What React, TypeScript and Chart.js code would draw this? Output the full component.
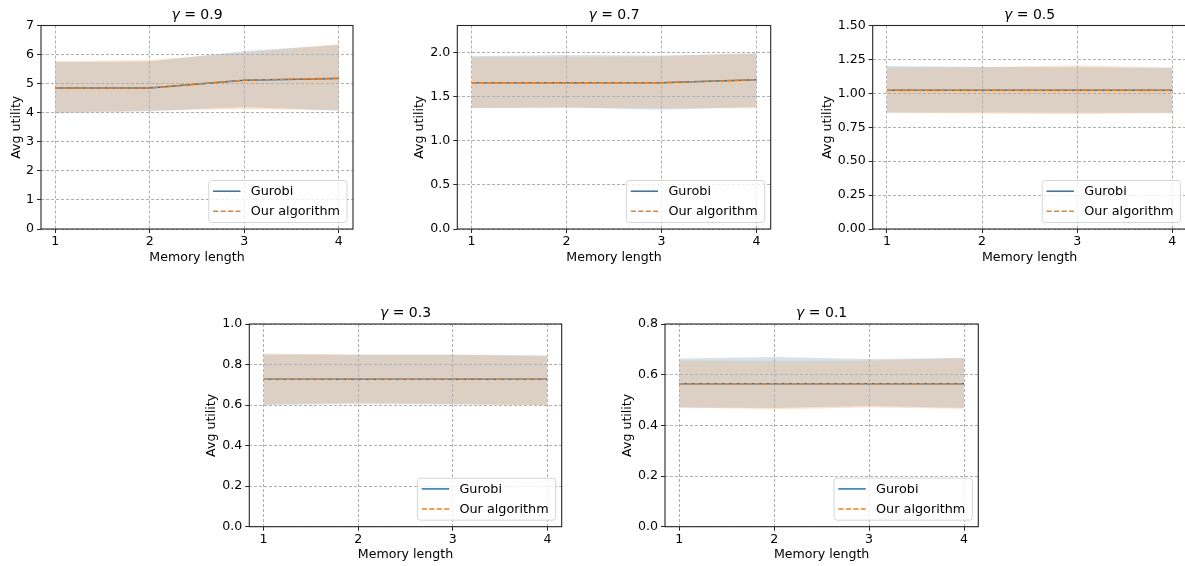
import React, { useEffect, useRef } from "react";
import { Chart, registerables } from "chart.js";

Chart.register(...registerables);

// ---------------- data ----------------
const memoryLength = [1, 2, 3, 4];
const gammaLabels = ["0.9", "0.7", "0.5", "0.3", "0.1"];
const seriesNames = ["Gurobi", "Our algorithm"];

// gamma = 0.9
const g09GurobiMean = [4.85, 4.85, 5.12, 5.18];
const g09OursMean = [4.85, 4.85, 5.12, 5.19];
const g09GurobiUpper = [5.74, 5.76, 6.12, 6.33];
const g09GurobiLower = [3.97, 4.05, 4.2, 4.07];
const g09OursUpper = [5.78, 5.81, 6.06, 6.36];
const g09OursLower = [4.02, 4.08, 4.13, 4.09];

// gamma = 0.7
const g07GurobiMean = [1.66, 1.66, 1.66, 1.695];
const g07OursMean = [1.66, 1.66, 1.66, 1.695];
const g07GurobiUpper = [1.96, 1.975, 1.97, 1.99];
const g07GurobiLower = [1.37, 1.38, 1.355, 1.385];
const g07OursUpper = [1.955, 1.955, 1.96, 2.0];
const g07OursLower = [1.375, 1.375, 1.37, 1.37];

// gamma = 0.5
const g05GurobiMean = [1.022, 1.022, 1.022, 1.022];
const g05OursMean = [1.022, 1.022, 1.022, 1.022];
const g05GurobiUpper = [1.202, 1.195, 1.193, 1.187];
const g05GurobiLower = [0.857, 0.858, 0.856, 0.856];
const g05OursUpper = [1.19, 1.195, 1.207, 1.19];
const g05OursLower = [0.858, 0.852, 0.846, 0.855];

// gamma = 0.3
const g03GurobiMean = [0.727, 0.727, 0.727, 0.727];
const g03OursMean = [0.727, 0.727, 0.727, 0.727];
const g03GurobiUpper = [0.85, 0.848, 0.848, 0.842];
const g03GurobiLower = [0.6, 0.605, 0.603, 0.6];
const g03OursUpper = [0.855, 0.85, 0.85, 0.846];
const g03OursLower = [0.603, 0.612, 0.605, 0.598];

// gamma = 0.1
const g01GurobiMean = [0.5645, 0.5645, 0.5645, 0.5645];
const g01OursMean = [0.5645, 0.5645, 0.5645, 0.5645];
const g01GurobiUpper = [0.664, 0.67, 0.662, 0.666];
const g01GurobiLower = [0.47, 0.468, 0.476, 0.468];
const g01OursUpper = [0.657, 0.655, 0.656, 0.666];
const g01OursLower = [0.47, 0.464, 0.47, 0.466];

// y axis settings per panel
const yMaxes = [7, 2.31, 1.5, 1.0, 0.8];
const ySteps = [1, 0.5, 0.25, 0.2, 0.2];
const yDecimals = [0, 1, 2, 1, 1];

// ---------------- layout (not data) ----------------
const panelBoxes = [
  { L: 41, T: 25.5, R: 353, B: 229, yTitleOff: 24 },
  { L: 457.3, T: 25.5, R: 770.7, B: 229, yTitleOff: 37 },
  { L: 872.7, T: 25.5, R: 1186.5, B: 229, yTitleOff: 44.5 },
  { L: 249.3, T: 324, R: 561.7, B: 526.7, yTitleOff: 37.6 },
  { L: 665, T: 324, R: 978.3, B: 526.7, yTitleOff: 36.7 },
];

const panelSeries = [
  [g09GurobiMean, g09OursMean, g09GurobiUpper, g09GurobiLower, g09OursUpper, g09OursLower],
  [g07GurobiMean, g07OursMean, g07GurobiUpper, g07GurobiLower, g07OursUpper, g07OursLower],
  [g05GurobiMean, g05OursMean, g05GurobiUpper, g05GurobiLower, g05OursUpper, g05OursLower],
  [g03GurobiMean, g03OursMean, g03GurobiUpper, g03GurobiLower, g03OursUpper, g03OursLower],
  [g01GurobiMean, g01OursMean, g01GurobiUpper, g01GurobiLower, g01OursUpper, g01OursLower],
];

const BLUE = "#1f77b4";
const ORANGE = "#ff7f0e";
const BLUE_FILL = "rgba(31,119,180,0.2)";
const ORANGE_FILL = "rgba(255,127,14,0.2)";
const FONT = "'DejaVu Sans', sans-serif";
const TEXT = "#000000";
const GRID = "#b0b0b0";
const SPINE = "#262626";
const TEXT_SIZE = 12.6;

const toPts = (ys: number[]) => memoryLength.map((x, i) => ({ x, y: ys[i] }));

function Panel({ idx }: { idx: number }) {
  const ref = useRef<HTMLCanvasElement>(null);
  const box = panelBoxes[idx];
  const PAD_TOP = 25;
  const PAD_RIGHT = 6;
  const X_AXIS_H = 38;
  const cx = Math.round(box.L - box.yTitleOff - 10);
  const cy = Math.round(box.T - PAD_TOP);
  const cw = Math.round(box.R + PAD_RIGHT - cx);
  const ch = Math.round(box.B + X_AXIS_H - cy);
  const yAxisW = box.L - cx;
  const padTop = box.T - cy;
  const padRight = cx + cw - box.R;
  const xAxisH = cy + ch - box.B;
  const half = (TEXT_SIZE * 1.2) / 2;

  useEffect(() => {
    const canvas = ref.current;
    if (!canvas) return;
    const s = panelSeries[idx];
    const gamma = gammaLabels[idx];

    const framePlugin = {
      id: "frame",
      afterDatasetsDraw(chart: any) {
        const { ctx, chartArea } = chart;
        const { left, right, top, bottom } = chartArea;
        ctx.save();
        ctx.strokeStyle = SPINE;
        ctx.lineWidth = 1.1;
        ctx.strokeRect(left, top, right - left, bottom - top);
        ctx.restore();
      },
    };

    const titlePlugin = {
      id: "mtitle",
      afterDraw(chart: any) {
        const { ctx, chartArea } = chart;
        const { left, right, top } = chartArea;
        ctx.save();
        ctx.fillStyle = TEXT;
        ctx.textBaseline = "alphabetic";
        ctx.textAlign = "left";
        const size = 14;
        const fItalic = `italic ${size}px ${FONT}`;
        const fNormal = `${size}px ${FONT}`;
        ctx.font = fItalic;
        const w1 = ctx.measureText("γ").width;
        ctx.font = fNormal;
        const rest = " = " + gamma;
        const w2 = ctx.measureText(rest).width;
        const x0 = (left + right) / 2 - (w1 + w2) / 2;
        const yb = top - 6.6;
        ctx.font = fItalic;
        ctx.fillText("γ", x0, yb);
        ctx.font = fNormal;
        ctx.fillText(rest, x0 + w1, yb);
        ctx.restore();
      },
    };

    const legendPlugin = {
      id: "mlegend",
      afterDraw(chart: any) {
        const { ctx, chartArea } = chart;
        const { right, bottom } = chartArea;
        const dsets = chart.data.datasets.slice(0, 2);
        ctx.save();
        const fs = 12.8;
        ctx.font = `${fs}px ${FONT}`;
        let tw = 0;
        dsets.forEach((d: any) => {
          tw = Math.max(tw, ctx.measureText(d.label).width);
        });
        const boxW = 42 + tw + 7;
        const boxH = 42;
        const bx = Math.min(right, chart.width) - 6 - boxW;
        const by = bottom - 6.5 - boxH;
        const r = 3;
        ctx.beginPath();
        ctx.moveTo(bx + r, by);
        ctx.lineTo(bx + boxW - r, by);
        ctx.arcTo(bx + boxW, by, bx + boxW, by + r, r);
        ctx.lineTo(bx + boxW, by + boxH - r);
        ctx.arcTo(bx + boxW, by + boxH, bx + boxW - r, by + boxH, r);
        ctx.lineTo(bx + r, by + boxH);
        ctx.arcTo(bx, by + boxH, bx, by + boxH - r, r);
        ctx.lineTo(bx, by + r);
        ctx.arcTo(bx, by, bx + r, by, r);
        ctx.closePath();
        ctx.fillStyle = "rgba(255,255,255,0.8)";
        ctx.fill();
        ctx.strokeStyle = "#d6d6d6";
        ctx.lineWidth = 1;
        ctx.stroke();
        dsets.forEach((d: any, i: number) => {
          const yy = by + 10.7 + i * 20;
          ctx.beginPath();
          ctx.setLineDash(d.borderDash || []);
          ctx.strokeStyle = d.borderColor;
          ctx.lineWidth = d.borderWidth;
          ctx.moveTo(bx + 4.3, yy);
          ctx.lineTo(bx + 31.7, yy);
          ctx.stroke();
          ctx.setLineDash([]);
          ctx.fillStyle = TEXT;
          ctx.textBaseline = "middle";
          ctx.textAlign = "left";
          ctx.fillText(d.label, bx + 42, yy + 0.5);
        });
        ctx.restore();
      },
    };

    const tickFont = { family: FONT, size: TEXT_SIZE };
    const chart = new Chart(canvas, {
      type: "line",
      data: {
        datasets: [
          {
            label: seriesNames[0],
            data: toPts(s[0]),
            borderColor: BLUE,
            borderWidth: 1.5,
            pointRadius: 0,
            fill: false,
            order: 1,
          },
          {
            label: seriesNames[1],
            data: toPts(s[1]),
            borderColor: ORANGE,
            borderWidth: 1.5,
            borderDash: [5.2, 2.3],
            pointRadius: 0,
            fill: false,
            order: 0,
          },
          {
            label: "gurobi-upper",
            data: toPts(s[2]),
            borderColor: "transparent",
            borderWidth: 0,
            backgroundColor: BLUE_FILL,
            pointRadius: 0,
            fill: "+1",
            order: 5,
          },
          {
            label: "gurobi-lower",
            data: toPts(s[3]),
            borderColor: "transparent",
            borderWidth: 0,
            pointRadius: 0,
            fill: false,
            order: 6,
          },
          {
            label: "ours-upper",
            data: toPts(s[4]),
            borderColor: "transparent",
            borderWidth: 0,
            backgroundColor: ORANGE_FILL,
            pointRadius: 0,
            fill: "+1",
            order: 3,
          },
          {
            label: "ours-lower",
            data: toPts(s[5]),
            borderColor: "transparent",
            borderWidth: 0,
            pointRadius: 0,
            fill: false,
            order: 4,
          },
        ],
      },
      options: {
        responsive: false,
        maintainAspectRatio: false,
        animation: false,
        devicePixelRatio: 1,
        events: [],
        layout: { padding: { left: 0, top: padTop, right: padRight, bottom: 0 } },
        elements: { line: { tension: 0 } },
        plugins: {
          legend: { display: false },
          tooltip: { enabled: false },
          title: { display: false },
          filler: { drawTime: "beforeDraw", propagate: false },
        } as any,
        scales: {
          x: {
            type: "linear",
            min: 0.85,
            max: 4.15,
            afterFit: (sc: any) => {
              sc.height = xAxisH;
            },
            ticks: {
              stepSize: 1,
              includeBounds: false,
              font: tickFont,
              color: TEXT,
              padding: 1.5,
              maxRotation: 0,
              callback: (v: any) => String(v),
            },
            grid: {
              color: GRID,
              lineWidth: 1,
              drawTicks: true,
              tickLength: 4,
              tickColor: SPINE,
              tickWidth: 1,
            },
            border: { display: false, dash: [3, 2] },
            title: {
              display: true,
              text: "Memory length",
              font: { family: FONT, size: TEXT_SIZE },
              color: TEXT,
              padding: { top: 0, bottom: xAxisH - 28.5 - half },
            },
          } as any,
          y: {
            type: "linear",
            min: 0,
            max: yMaxes[idx],
            afterFit: (sc: any) => {
              sc.width = yAxisW;
            },
            ticks: {
              stepSize: ySteps[idx],
              includeBounds: false,
              font: tickFont,
              color: TEXT,
              padding: 3,
              callback: (v: any) => Number(v).toFixed(yDecimals[idx]),
            },
            grid: {
              color: GRID,
              lineWidth: 1,
              drawTicks: true,
              tickLength: 4,
              tickColor: SPINE,
              tickWidth: 1,
            },
            border: { display: false, dash: [3, 2] },
            title: {
              display: true,
              text: "Avg utility",
              font: { family: FONT, size: TEXT_SIZE },
              color: TEXT,
              padding: { top: 10 - half, bottom: 0 },
            },
          } as any,
        },
      },
      plugins: [framePlugin, titlePlugin, legendPlugin],
    });
    return () => chart.destroy();
  }, [idx]);

  return (
    <canvas
      ref={ref}
      width={cw}
      height={ch}
      style={{ position: "absolute", left: cx, top: cy, width: cw, height: ch }}
    />
  );
}

export default function App() {
  return (
    <div
      style={{
        position: "absolute",
        left: 0,
        top: 0,
        width: 1185,
        height: 566,
        overflow: "hidden",
        background: "#ffffff",
      }}
    >
      {panelBoxes.map((_, i) => (
        <Panel key={i} idx={i} />
      ))}
    </div>
  );
}
